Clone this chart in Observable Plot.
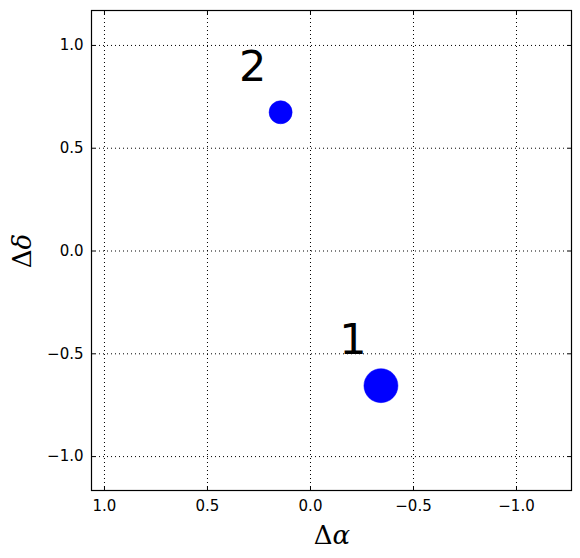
<!DOCTYPE html>
<html>
<head>
<meta charset="utf-8">
<script src="https://cdn.jsdelivr.net/npm/d3@7"></script>
<script src="https://cdn.jsdelivr.net/npm/@observablehq/plot@0.6"></script>
<style>
  html, body { margin: 0; padding: 0; background: #fff; }
  #chart svg { display: block; }
</style>
</head>
<body>
<div id="chart"></div>
<script>
// Data
const ids = ["1", "2"];
const dAlpha = [-0.342, 0.145];
const dDelta = [-0.655, 0.675];
const flux = [1.0, 0.46];

const xTicks = [1.0, 0.5, 0.0, -0.5, -1.0];
const yTicks = [1.0, 0.5, 0.0, -0.5, -1.0];
const xDomain = [1.063, -1.267];
const yDomain = [-1.165, 1.17];

const pts = ids.map((id, i) => ({id, x: dAlpha[i], y: dDelta[i], f: flux[i]}));
const fmt = d => d.toFixed(1).replace("-", "\u2212");

const font = "DejaVu Sans, sans-serif";

const plot = Plot.plot({
  width: 580,
  height: 558,
  marginLeft: 91,
  marginRight: 9,
  marginTop: 10,
  marginBottom: 68,
  style: {fontFamily: font, fontSize: "15px", color: "black", background: "white"},
  x: {domain: xDomain, ticks: xTicks, tickFormat: fmt, label: null},
  y: {domain: yDomain, ticks: yTicks, tickFormat: fmt, label: null},
  r: {domain: [0, 1], range: [0, 17]},
  marks: [
    Plot.gridX(xTicks, {stroke: "black", strokeOpacity: 1, strokeWidth: 1, strokeDasharray: "1,3"}),
    Plot.gridY(yTicks, {stroke: "black", strokeOpacity: 1, strokeWidth: 1, strokeDasharray: "1,3"}),
    Plot.axisX(xTicks, {anchor: "bottom", tickSize: -4, tickPadding: 14, tickFormat: fmt, fontSize: 15, label: null}),
    Plot.axisX(xTicks, {anchor: "top", tickSize: -4, tickFormat: null, label: null, text: null}),
    Plot.axisY(yTicks, {anchor: "left", tickSize: -4, tickPadding: 12, tickFormat: fmt, fontSize: 15, label: null}),
    Plot.axisY(yTicks, {anchor: "right", tickSize: -4, tickFormat: null, label: null, text: null}),
    Plot.frame({stroke: "black", strokeWidth: 1.2}),
    Plot.dot(pts, {x: "x", y: "y", r: "f", fill: "blue", stroke: "blue", strokeWidth: 0.5}),
    Plot.text(pts, {x: "x", y: "y", text: "id", dx: -28, dy: -45, fontSize: 43, fill: "black", fontFamily: font})
  ]
});

document.getElementById("chart").appendChild(plot);

// Axis labels (LaTeX-like) as real text
const svg = d3.select(plot);
svg.append("text")
  .attr("x", 332).attr("y", 544)
  .attr("text-anchor", "middle")
  .attr("font-family", "DejaVu Serif, serif")
  .attr("font-size", 26)
  .attr("fill", "black")
  .html('Δ<tspan font-style="italic">α</tspan>');
svg.append("text")
  .attr("transform", "translate(31,251) rotate(-90)")
  .attr("text-anchor", "middle")
  .attr("font-family", "DejaVu Serif, serif")
  .attr("font-size", 26)
  .attr("fill", "black")
  .html('Δ<tspan font-style="italic">δ</tspan>');
</script>
</body>
</html>
